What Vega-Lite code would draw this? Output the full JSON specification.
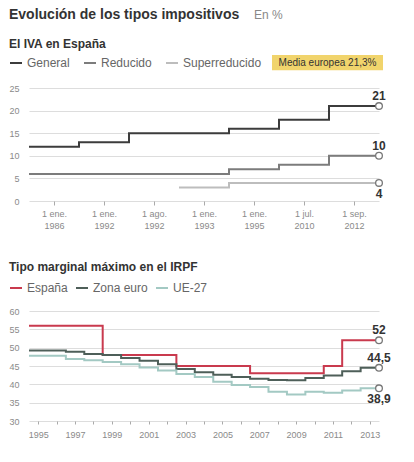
{
  "$schema": "https://vega.github.io/schema/vega-lite/v6.json",
  "background": "white",
  "padding": {"left": 8, "top": 8, "right": 6, "bottom": 4},
  "title": {
    "text": "En %",
    "anchor": "start",
    "dx": 245,
    "fontSize": 12,
    "fontWeight": "normal",
    "color": "#888888",
    "offset": -14
  },
  "config": {
    "font": "Liberation Sans",
    "view": {"stroke": null},
    "locale": {"number": {"decimal": ",", "thousands": ".", "grouping": [3], "currency": ["", " €"]}},
    "axis": {"labelColor": "#8a8a8a", "labelFontSize": 9, "gridColor": "#dddddd", "tickColor": "#aaaaaa", "domain": false, "title": null, "labelOverlap": false},
    "legend": {"labelFontSize": 12, "labelColor": "#666666", "symbolType": "stroke", "symbolStrokeWidth": 2, "symbolSize": 144, "direction": "horizontal", "orient": "none", "title": null},
    "title": {"anchor": "start", "fontSize": 12, "fontWeight": "bold", "color": "#333333", "frame": "bounds"}
  },
  "resolve": {"scale": {"color": "independent"}, "legend": {"color": "independent"}},
  "spacing": 31,
  "vconcat": [
    {
      "width": 350,
      "height": 113,
      "title": {"text": "Evolución de los tipos impositivos", "fontSize": 14, "subtitle": "El IVA en España", "subtitleFontSize": 12, "subtitleFontWeight": "bold", "subtitleColor": "#333333", "subtitlePadding": 17, "offset": 5},
      "data": {"values": [
        {"periodo": 0, "tipo": "General", "valor": 12},
        {"periodo": 1, "tipo": "General", "valor": 13},
        {"periodo": 2, "tipo": "General", "valor": 15},
        {"periodo": 3, "tipo": "General", "valor": 15},
        {"periodo": 4, "tipo": "General", "valor": 16},
        {"periodo": 5, "tipo": "General", "valor": 18},
        {"periodo": 6, "tipo": "General", "valor": 21},
        {"periodo": 7, "tipo": "General", "valor": 21},
        {"periodo": 0, "tipo": "Reducido", "valor": 6},
        {"periodo": 1, "tipo": "Reducido", "valor": 6},
        {"periodo": 2, "tipo": "Reducido", "valor": 6},
        {"periodo": 3, "tipo": "Reducido", "valor": 6},
        {"periodo": 4, "tipo": "Reducido", "valor": 7},
        {"periodo": 5, "tipo": "Reducido", "valor": 8},
        {"periodo": 6, "tipo": "Reducido", "valor": 10},
        {"periodo": 7, "tipo": "Reducido", "valor": 10},
        {"periodo": 3, "tipo": "Superreducido", "valor": 3},
        {"periodo": 4, "tipo": "Superreducido", "valor": 4},
        {"periodo": 5, "tipo": "Superreducido", "valor": 4},
        {"periodo": 6, "tipo": "Superreducido", "valor": 4},
        {"periodo": 7, "tipo": "Superreducido", "valor": 4}
      ]},
      "layer": [
        {
          "mark": {"type": "line", "interpolate": "step-after", "strokeWidth": 2},
          "encoding": {
            "x": {"field": "periodo", "type": "quantitative", "scale": {"domain": [0, 7], "nice": false},
              "axis": {"values": [0.5, 1.5, 2.5, 3.5, 4.5, 5.5, 6.5], "tickCount": 50, "grid": false, "tickSize": 4, "labelPadding": 4, "labelLineHeight": 12,
                "labelExpr": "datum.value < 1 ? ['1 ene.', '1986'] : datum.value < 2 ? ['1 ene.', '1992'] : datum.value < 3 ? ['1 ago.', '1992'] : datum.value < 4 ? ['1 ene.', '1993'] : datum.value < 5 ? ['1 ene.', '1995'] : datum.value < 6 ? ['1 jul.', '2010'] : ['1 sep.', '2012']"}},
            "y": {"field": "valor", "type": "quantitative", "scale": {"domain": [0, 25], "nice": false},
              "axis": {"values": [0, 5, 10, 15, 20, 25], "tickCount": 50, "format": "d", "ticks": false, "labelPadding": 10}},
            "color": {"field": "tipo", "type": "nominal",
              "scale": {"domain": ["General", "Reducido", "Superreducido"], "range": ["#3c3c3c", "#7c7c7c", "#bdbdbd"]},
              "legend": {"legendX": -20, "legendY": -32, "columnPadding": 10}}
          }
        },
        {
          "data": {"values": [{"texto": "Media europea 21,3%"}]},
          "mark": {"type": "rect", "fill": "#f1d46c", "clip": false},
          "encoding": {
            "x": {"datum": 4.86, "type": "quantitative"},
            "x2": {"datum": 7.08},
            "y": {"datum": 32.3, "type": "quantitative"},
            "y2": {"datum": 28.9}
          }
        },
        {
          "data": {"values": [{"texto": "Media europea 21,3%"}]},
          "mark": {"type": "text", "fontSize": 10, "color": "#333333", "align": "center", "baseline": "middle"},
          "encoding": {
            "x": {"datum": 5.97, "type": "quantitative"},
            "y": {"datum": 30.6, "type": "quantitative"},
            "text": {"field": "texto", "type": "nominal"}
          }
        },
        {
          "transform": [{"filter": "datum.periodo == 7"}],
          "mark": {"type": "point", "filled": false, "fill": "white", "stroke": "#777777", "strokeWidth": 1.3, "size": 45, "opacity": 1},
          "encoding": {
            "x": {"field": "periodo", "type": "quantitative"},
            "y": {"field": "valor", "type": "quantitative"}
          }
        },
        {
          "transform": [{"filter": "datum.periodo == 7 && datum.tipo != 'Superreducido'"}],
          "mark": {"type": "text", "fontSize": 12, "fontWeight": "bold", "color": "#333333", "dy": -10, "align": "center", "baseline": "middle"},
          "encoding": {
            "x": {"field": "periodo", "type": "quantitative"},
            "y": {"field": "valor", "type": "quantitative"},
            "text": {"field": "valor", "type": "quantitative", "format": "~g"}
          }
        },
        {
          "transform": [{"filter": "datum.periodo == 7 && datum.tipo == 'Superreducido'"}],
          "mark": {"type": "text", "fontSize": 12, "fontWeight": "bold", "color": "#333333", "dy": 11, "align": "center", "baseline": "middle"},
          "encoding": {
            "x": {"field": "periodo", "type": "quantitative"},
            "y": {"field": "valor", "type": "quantitative"},
            "text": {"field": "valor", "type": "quantitative", "format": "~g"}
          }
        }
      ]
    },
    {
      "width": 350,
      "height": 110,
      "title": {"text": "Tipo marginal máximo en el IRPF", "offset": 7},
      "data": {"values": [
        {"fecha": "1995-01-01", "zona": "España", "valor": 56},
        {"fecha": "1996-01-01", "zona": "España", "valor": 56},
        {"fecha": "1997-01-01", "zona": "España", "valor": 56},
        {"fecha": "1998-01-01", "zona": "España", "valor": 56},
        {"fecha": "1999-01-01", "zona": "España", "valor": 48},
        {"fecha": "2000-01-01", "zona": "España", "valor": 48},
        {"fecha": "2001-01-01", "zona": "España", "valor": 48},
        {"fecha": "2002-01-01", "zona": "España", "valor": 48},
        {"fecha": "2003-01-01", "zona": "España", "valor": 45},
        {"fecha": "2004-01-01", "zona": "España", "valor": 45},
        {"fecha": "2005-01-01", "zona": "España", "valor": 45},
        {"fecha": "2006-01-01", "zona": "España", "valor": 45},
        {"fecha": "2007-01-01", "zona": "España", "valor": 43},
        {"fecha": "2008-01-01", "zona": "España", "valor": 43},
        {"fecha": "2009-01-01", "zona": "España", "valor": 43},
        {"fecha": "2010-01-01", "zona": "España", "valor": 43},
        {"fecha": "2011-01-01", "zona": "España", "valor": 45},
        {"fecha": "2012-01-01", "zona": "España", "valor": 52},
        {"fecha": "2013-01-01", "zona": "España", "valor": 52},
        {"fecha": "2013-12-31", "zona": "España", "valor": 52},
        {"fecha": "1995-01-01", "zona": "Zona euro", "valor": 49.2},
        {"fecha": "1996-01-01", "zona": "Zona euro", "valor": 49.2},
        {"fecha": "1997-01-01", "zona": "Zona euro", "valor": 48.9},
        {"fecha": "1998-01-01", "zona": "Zona euro", "valor": 48.3},
        {"fecha": "1999-01-01", "zona": "Zona euro", "valor": 48.0},
        {"fecha": "2000-01-01", "zona": "Zona euro", "valor": 47.2},
        {"fecha": "2001-01-01", "zona": "Zona euro", "valor": 46.4},
        {"fecha": "2002-01-01", "zona": "Zona euro", "valor": 45.5},
        {"fecha": "2003-01-01", "zona": "Zona euro", "valor": 44.2},
        {"fecha": "2004-01-01", "zona": "Zona euro", "valor": 43.3},
        {"fecha": "2005-01-01", "zona": "Zona euro", "valor": 42.6},
        {"fecha": "2006-01-01", "zona": "Zona euro", "valor": 42.0},
        {"fecha": "2007-01-01", "zona": "Zona euro", "valor": 41.5},
        {"fecha": "2008-01-01", "zona": "Zona euro", "valor": 41.2},
        {"fecha": "2009-01-01", "zona": "Zona euro", "valor": 41.1},
        {"fecha": "2010-01-01", "zona": "Zona euro", "valor": 41.7},
        {"fecha": "2011-01-01", "zona": "Zona euro", "valor": 42.4},
        {"fecha": "2012-01-01", "zona": "Zona euro", "valor": 43.6},
        {"fecha": "2013-01-01", "zona": "Zona euro", "valor": 44.5},
        {"fecha": "2013-12-31", "zona": "Zona euro", "valor": 44.5},
        {"fecha": "1995-01-01", "zona": "UE-27", "valor": 47.8},
        {"fecha": "1996-01-01", "zona": "UE-27", "valor": 47.8},
        {"fecha": "1997-01-01", "zona": "UE-27", "valor": 46.9},
        {"fecha": "1998-01-01", "zona": "UE-27", "valor": 46.6},
        {"fecha": "1999-01-01", "zona": "UE-27", "valor": 46.1},
        {"fecha": "2000-01-01", "zona": "UE-27", "valor": 45.5},
        {"fecha": "2001-01-01", "zona": "UE-27", "valor": 44.6},
        {"fecha": "2002-01-01", "zona": "UE-27", "valor": 43.8},
        {"fecha": "2003-01-01", "zona": "UE-27", "valor": 42.8},
        {"fecha": "2004-01-01", "zona": "UE-27", "valor": 42.0},
        {"fecha": "2005-01-01", "zona": "UE-27", "valor": 40.7},
        {"fecha": "2006-01-01", "zona": "UE-27", "valor": 39.8},
        {"fecha": "2007-01-01", "zona": "UE-27", "valor": 39.3},
        {"fecha": "2008-01-01", "zona": "UE-27", "valor": 38.0},
        {"fecha": "2009-01-01", "zona": "UE-27", "valor": 37.2},
        {"fecha": "2010-01-01", "zona": "UE-27", "valor": 38.0},
        {"fecha": "2011-01-01", "zona": "UE-27", "valor": 37.7},
        {"fecha": "2012-01-01", "zona": "UE-27", "valor": 38.3},
        {"fecha": "2013-01-01", "zona": "UE-27", "valor": 38.9},
        {"fecha": "2013-12-31", "zona": "UE-27", "valor": 38.9}
      ]},
      "layer": [
        {
          "mark": {"type": "line", "interpolate": "step-after", "strokeWidth": 2},
          "encoding": {
            "x": {"field": "fecha", "type": "temporal",
              "scale": {"domain": [{"year": 1995, "month": 1, "date": 1}, {"year": 2013, "month": 12, "date": 31}], "nice": false},
              "axis": {"grid": false, "tickSize": 3, "labelPadding": 6, "tickCount": 50,
                "values": [{"year": 1995, "month": 7, "date": 2}, {"year": 1996, "month": 7, "date": 2}, {"year": 1997, "month": 7, "date": 2}, {"year": 1998, "month": 7, "date": 2}, {"year": 1999, "month": 7, "date": 2}, {"year": 2000, "month": 7, "date": 2}, {"year": 2001, "month": 7, "date": 2}, {"year": 2002, "month": 7, "date": 2}, {"year": 2003, "month": 7, "date": 2}, {"year": 2004, "month": 7, "date": 2}, {"year": 2005, "month": 7, "date": 2}, {"year": 2006, "month": 7, "date": 2}, {"year": 2007, "month": 7, "date": 2}, {"year": 2008, "month": 7, "date": 2}, {"year": 2009, "month": 7, "date": 2}, {"year": 2010, "month": 7, "date": 2}, {"year": 2011, "month": 7, "date": 2}, {"year": 2012, "month": 7, "date": 2}, {"year": 2013, "month": 7, "date": 2}],
                "labelExpr": "year(datum.value) % 2 == 1 ? timeFormat(datum.value, '%Y') : ''"}},
            "y": {"field": "valor", "type": "quantitative", "scale": {"domain": [30, 60], "nice": false, "zero": false},
              "axis": {"values": [30, 35, 40, 45, 50, 55, 60], "tickCount": 50, "format": "d", "ticks": false, "labelPadding": 10}},
            "color": {"field": "zona", "type": "nominal",
              "scale": {"domain": ["España", "Zona euro", "UE-27"], "range": ["#c93a4e", "#4e5f59", "#a3c9c3"]},
              "legend": {"legendX": -20, "legendY": -30, "columnPadding": 4}}
          }
        },
        {
          "transform": [{"filter": "year(datum.fecha) == 2013 && month(datum.fecha) == 11"}],
          "mark": {"type": "point", "filled": false, "fill": "white", "stroke": "#777777", "strokeWidth": 1.3, "size": 45, "opacity": 1},
          "encoding": {
            "x": {"field": "fecha", "type": "temporal"},
            "y": {"field": "valor", "type": "quantitative"}
          }
        },
        {
          "transform": [{"filter": "year(datum.fecha) == 2013 && month(datum.fecha) == 11 && datum.zona != 'UE-27'"}],
          "mark": {"type": "text", "fontSize": 12, "fontWeight": "bold", "color": "#333333", "dy": -10, "align": "center", "baseline": "middle"},
          "encoding": {
            "x": {"field": "fecha", "type": "temporal"},
            "y": {"field": "valor", "type": "quantitative"},
            "text": {"field": "valor", "type": "quantitative", "format": "~g"}
          }
        },
        {
          "transform": [{"filter": "year(datum.fecha) == 2013 && month(datum.fecha) == 11 && datum.zona == 'UE-27'"}],
          "mark": {"type": "text", "fontSize": 12, "fontWeight": "bold", "color": "#333333", "dy": 11, "align": "center", "baseline": "middle"},
          "encoding": {
            "x": {"field": "fecha", "type": "temporal"},
            "y": {"field": "valor", "type": "quantitative"},
            "text": {"field": "valor", "type": "quantitative", "format": "~g"}
          }
        }
      ]
    }
  ]
}
